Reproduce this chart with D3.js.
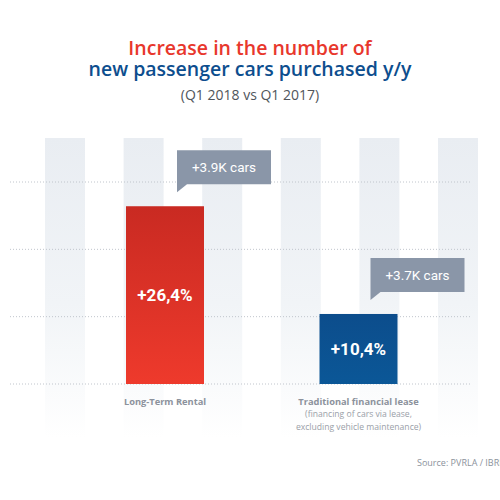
<!DOCTYPE html>
<html><head><meta charset="utf-8">
<script src="https://cdn.jsdelivr.net/npm/d3@7"></script>
<style>html,body{margin:0;padding:0;background:#fff;}svg{display:block;}</style>
</head><body>
<svg id="c" width="500" height="500"></svg>
<script>
const categories = ["Long-Term Rental", "Traditional financial lease"];
const subLabels = [[], ["(financing of cars via lease,", "excluding vehicle maintenance)"]];
const values = [26.4, 10.4];
const valueLabels = ["+26,4%", "+10,4%"];
const calloutLabels = ["+3.9K cars", "+3.7K cars"];
const gridTicks = [0, 10, 20, 30];
const stripeIndex = [0, 1, 2, 3, 4, 5];
const titleLines = ["Increase in the number of", "new passenger cars purchased y/y"];
const subtitle = "(Q1 2018 vs Q1 2017)";
const source = "Source: PVRLA / IBRM";

const svg = d3.select("#c");
const defs = svg.append("defs");
const rg = defs.append("linearGradient").attr("id","rg").attr("x1",0).attr("y1",0).attr("x2",0).attr("y2",1);
rg.append("stop").attr("offset","0%").attr("stop-color","#c92a22");
rg.append("stop").attr("offset","100%").attr("stop-color","#ee3a2c");
const bg = defs.append("linearGradient").attr("id","bg").attr("x1",0).attr("y1",0).attr("x2",0).attr("y2",1);
bg.append("stop").attr("offset","0%").attr("stop-color","#0c4d8c");
bg.append("stop").attr("offset","100%").attr("stop-color","#0b5797");
const sg = defs.append("linearGradient").attr("id","sg").attr("x1",0).attr("y1",0).attr("x2",0).attr("y2",1);
sg.append("stop").attr("offset","0%").attr("stop-color","#e9edf2");
sg.append("stop").attr("offset","55%").attr("stop-color","#f1f4f7");
sg.append("stop").attr("offset","100%").attr("stop-color","#ffffff");

// background stripes
const xs = d3.scaleLinear().domain([0, 5]).range([45, 438]);
svg.append("g").selectAll("rect").data(stripeIndex).join("rect")
  .attr("x", d => xs(d)).attr("y", 138).attr("width", 40).attr("height", 300)
  .attr("fill", "url(#sg)");

const y = d3.scaleLinear().domain([0, 30]).range([384, 182]);
svg.append("g").selectAll("line").data(gridTicks).join("line")
  .attr("x1", 10).attr("x2", 470)
  .attr("y1", d => y(d)).attr("y2", d => y(d))
  .attr("stroke", "#c0c5cc").attr("stroke-width", 1).attr("stroke-dasharray", "1,2");

const x = d3.scalePoint().domain(categories).range([165, 358.5]);
const bw = 78;
const fills = ["url(#rg)", "url(#bg)"];

const g = svg.append("g");
g.selectAll("rect").data(values).join("rect")
  .attr("x", (d,i) => x(categories[i]) - bw/2).attr("width", bw)
  .attr("y", d => y(d)).attr("height", d => y(0) - y(d))
  .attr("fill", (d,i) => fills[i]);

g.selectAll("text.val").data(values).join("text").attr("class","val")
  .attr("x", (d,i) => x(categories[i]))
  .attr("y", d => (y(d) + y(0))/2 + 6)
  .attr("text-anchor","middle").attr("fill","#fff")
  .attr("font-family","Roboto, sans-serif").attr("font-weight","700").attr("font-size",17)
  .text((d,i) => valueLabels[i]);

// callouts
const cw = 94, ch = 34;
const cg = g.selectAll("g.call").data(values).join("g").attr("class","call")
  .attr("transform", (d,i) => `translate(${x(categories[i]) + 12},${y(d) - 56})`);
cg.append("path")
  .attr("d", `M0,0H${cw}V${ch}H10L0,${ch+8}Z`)
  .attr("fill", "#8a96a8");
cg.append("text").attr("x", cw/2).attr("y", ch/2 + 5)
  .attr("text-anchor","middle").attr("fill","#fff")
  .attr("font-family","Roboto, sans-serif").attr("font-size",13.5)
  .text((d,i) => calloutLabels[i]);

// category labels
const lab = g.selectAll("g.lab").data(categories).join("g").attr("class","lab")
  .attr("transform", d => `translate(${x(d)},0)`);
lab.append("text").attr("y", 404.5).attr("text-anchor","middle")
  .attr("font-family","'Open Sans', sans-serif").attr("font-weight","700").attr("font-size",9.3)
  .attr("fill","#8c929c").text(d => d);
lab.each(function(d,i){
  d3.select(this).selectAll("text.sub").data(subLabels[i]).join("text").attr("class","sub")
    .attr("y", (s,j) => 417 + j*13).attr("text-anchor","middle")
    .attr("font-family","'Open Sans', sans-serif").attr("font-size",8.6)
    .attr("fill","#9aa0a8").text(s => s);
});

// titles
const colors = ["#e8372c", "#0d4e8e"];
svg.selectAll("text.title").data(titleLines).join("text").attr("class","title")
  .attr("x", 250).attr("y", (d,i) => 55 + i*20.5).attr("text-anchor","middle")
  .attr("font-family","'Open Sans', sans-serif").attr("font-weight","600").attr("font-size",19.5)
  .attr("fill", (d,i) => colors[i]).text(d => d);
svg.append("text").attr("x",250).attr("y",100).attr("text-anchor","middle")
  .attr("font-family","'Open Sans', sans-serif").attr("font-size",14)
  .attr("fill","#50555b").text(subtitle);
svg.append("text").attr("x",417).attr("y",466)
  .attr("font-family","'Open Sans', sans-serif").attr("font-size",9)
  .attr("fill","#8c929c").text(source);
</script>
</body></html>
